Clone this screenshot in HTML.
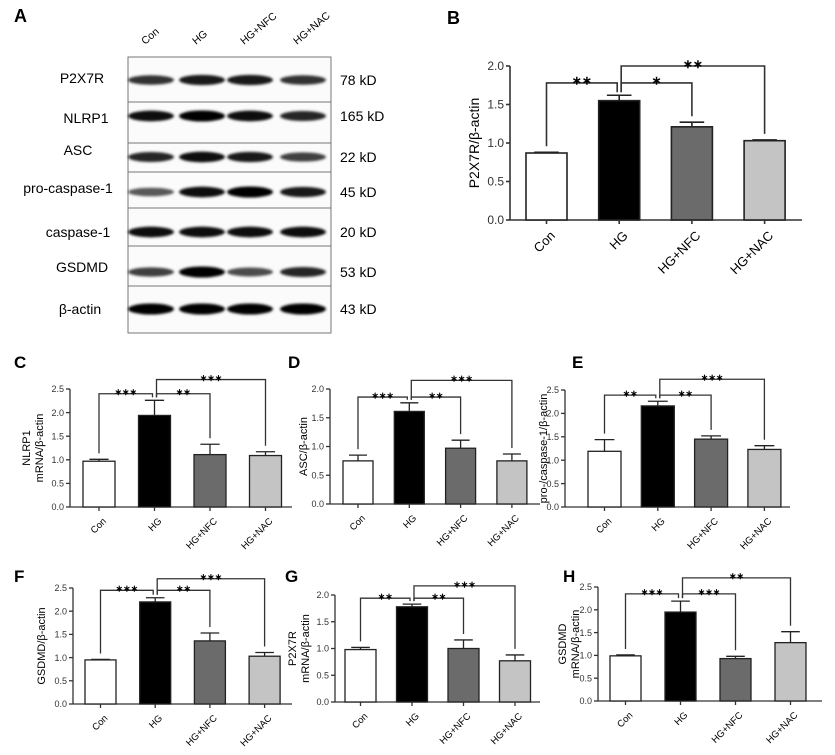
<!DOCTYPE html>
<html><head><meta charset="utf-8"><style>
body{margin:0;background:#fff}
svg{display:block;font-family:"Liberation Sans",Arial,sans-serif}
</style></head><body>
<svg id="fig" width="835" height="755" viewBox="0 0 835 755" xmlns="http://www.w3.org/2000/svg">
<defs><filter id="blur" x="-20%" y="-100%" width="140%" height="300%"><feGaussianBlur stdDeviation="1.4"/></filter></defs>
<g id="blot"></g>
<g id="charts"></g>
</svg>
<script>
// ---------- data ----------
const categories = ["Con","HG","HG+NFC","HG+NAC"];
const barFills = ["#ffffff","#000000","#6b6b6b","#c4c4c4"];

const valuesB = [0.87,1.55,1.21,1.03];  const errorsB = [0.01,0.07,0.06,0.01];
const valuesC = [0.97,1.94,1.11,1.09];  const errorsC = [0.04,0.32,0.22,0.08];
const valuesD = [0.75,1.61,0.97,0.75];  const errorsD = [0.10,0.15,0.14,0.12];
const valuesE = [1.19,2.16,1.45,1.23];  const errorsE = [0.25,0.10,0.07,0.08];
const valuesF = [0.95,2.20,1.36,1.03];  const errorsF = [0.01,0.09,0.17,0.08];
const valuesG = [0.98,1.78,1.00,0.77];  const errorsG = [0.04,0.05,0.16,0.11];
const valuesH = [0.99,1.95,0.93,1.28];  const errorsH = [0.02,0.24,0.05,0.24];

const starsB = ["**","*","**"];   const bracketB = [1.78,1.78,2.0];
const starsC = ["***","**","***"]; const bracketC = [2.4,2.4,2.7];
const starsD = ["***","**","***"]; const bracketD = [1.86,1.86,2.15];
const starsE = ["**","**","***"];  const bracketE = [2.39,2.39,2.73];
const starsF = ["***","**","***"]; const bracketF = [2.45,2.45,2.7];
const starsG = ["**","**","***"];  const bracketG = [1.94,1.94,2.17];
const starsH = ["***","***","**"]; const bracketH = [2.35,2.35,2.7];

const ticks20 = ["0.0","0.5","1.0","1.5","2.0"];
const ticks25 = ["0.0","0.5","1.0","1.5","2.0","2.5"];

const blotProteins = ["P2X7R","NLRP1","ASC","pro-caspase-1","caspase-1","GSDMD","β-actin"];
const blotWeights = ["78 kD","165 kD","22 kD","45 kD","20 kD","53 kD","43 kD"];
const bandIntensity = [
 [0.8,0.9,0.9,0.8],[0.95,1.0,0.95,0.85],[0.85,0.95,0.9,0.75],
 [0.65,0.95,1.0,0.9],[0.95,0.95,0.95,0.95],[0.75,1.0,0.7,0.85],[1,1,1,1]];

const NS="http://www.w3.org/2000/svg";
function mk(parent,tag,attrs,text){const e=document.createElementNS(NS,tag);for(const k in attrs)e.setAttribute(k,attrs[k]);if(text!==undefined)e.textContent=text;parent.appendChild(e);return e;}

// ---------- blot ----------
const blot=document.getElementById('blot');
const rowEdges=[57,102,143,172,208,246,286,333];
const bandY=[80,116,157,192,232,272,309];
const laneX=[151,202,250,303];
const labelX=[82,86,78,68,78,82,80];
const labelYOff=[-2,2,-7,-4,0,-5,0];
let t=mk(blot,'text',{x:14,y:22,'font-size':18,'font-weight':'bold'},'A');

categories.forEach((c,i)=>{
 const bx=laneX[i]-6, by=45;
 const tx=mk(blot,'text',{x:bx,y:by,'font-size':10.5,'text-anchor':'start',transform:`rotate(-40 ${bx} ${by})`},c);
 
});
for(let r=0;r<7;r++){
 const rect=mk(blot,'rect',{x:128,y:rowEdges[r],width:203,height:rowEdges[r+1]-rowEdges[r],fill:'#fbfbfb',stroke:'#777','stroke-width':1});
 
 laneX.forEach((lx,i)=>{
  const a=bandIntensity[r][i];
  const b=mk(blot,'ellipse',{cx:lx,cy:bandY[r],rx:23,ry:2+a*3.5,fill:'#000','fill-opacity':a,filter:'url(#blur)'});
  
 });
 const lt=mk(blot,'text',{x:labelX[r],y:bandY[r]+5+labelYOff[r],'font-size':14,'text-anchor':'middle'},blotProteins[r]);
 
 const wt=mk(blot,'text',{x:340,y:bandY[r]+5,'font-size':14},blotWeights[r]);
 
}

// ---------- charts ----------
const charts=document.getElementById('charts');
function drawPanel(p){
 const g=mk(charts,'g',{});
 
 const yScale=v=>p.y0-(v/p.max)*(p.y0-p.yTop);
 const xLeft=i=>p.bx+i*p.step;
 const xMid=i=>xLeft(i)+p.bw/2;
 const fs=p.fs, lw=p.big?1.6:1.3;
 const L=mk(g,'text',{x:p.lx,y:p.ly,'font-size':p.big?18:17,'font-weight':'bold'},p.id.toUpperCase());
 
 const ya=mk(g,'line',{x1:p.ax,y1:p.yTop,x2:p.ax,y2:p.y0,stroke:'#333','stroke-width':lw});
 
 const xa=mk(g,'line',{x1:p.ax,y1:p.y0,x2:p.xEnd,y2:p.y0,stroke:'#333','stroke-width':lw});
 
 p.ticks.forEach((lab,i)=>{
  const v=i*0.5, y=yScale(v);
  mk(g,'line',{x1:p.ax-4,y1:y,x2:p.ax,y2:y,stroke:'#333','stroke-width':lw});
  const tt=mk(g,'text',{x:p.ax-6,y:y+fs*0.35,'font-size':fs,'text-anchor':'end',fill:'#333'},lab);
  
 });
 const cy=(p.y0+p.yTop)/2;
 p.title.forEach((line,k)=>{
  const tx=p.tx+k*(p.tfs+2);
  const tt=mk(g,'text',{x:tx,y:cy,'font-size':p.tfs,'text-anchor':'middle',transform:`rotate(-90 ${tx} ${cy})`},line);
  
 });
 p.values.forEach((v,i)=>{
  const top=yScale(v), etop=yScale(v+p.errors[i]);
  mk(g,'line',{x1:xMid(i),y1:etop,x2:xMid(i),y2:top,stroke:'#222','stroke-width':lw});
  mk(g,'line',{x1:xMid(i)-p.bw*0.3,y1:etop,x2:xMid(i)+p.bw*0.3,y2:etop,stroke:'#222','stroke-width':lw});
  const r=mk(g,'rect',{x:xLeft(i),y:top,width:p.bw,height:p.y0-top,fill:barFills[i],stroke:'#222','stroke-width':lw});
  
  mk(g,'line',{x1:xMid(i),y1:p.y0,x2:xMid(i),y2:p.y0+4,stroke:'#333','stroke-width':lw});
  const cx=xMid(i)+3, cyy=p.y0+10;
  const ct=mk(g,'text',{x:cx,y:cyy+p.cfs*0.7,'font-size':p.cfs,'text-anchor':'end',transform:`rotate(-45 ${cx} ${cyy})`},categories[i]);
  
 });
 const pairs=[[0,1],[1,2],[1,3]];
 pairs.forEach((pr,k)=>{
  const by=yScale(p.brackets[k]);
  const a=pr[0], b=pr[1];
  const xa1=xMid(a)+(a===1?2:0), xb1=xMid(b)-(b===1?2:0);
  const endA=yScale(p.values[a]+p.errors[a])-(a===1?3:6);
  const endB=yScale(p.values[b]+p.errors[b])-(b===1?3:6);
  const pl=mk(g,'polyline',{points:`${xa1},${endA} ${xa1},${by} ${xb1},${by} ${xb1},${endB}`,fill:'none',stroke:'#333','stroke-width':lw});
  
  const st=mk(g,'text',{x:(xa1+xb1)/2,y:by+p.sfs*0.15,'font-size':p.sfs,'text-anchor':'middle','font-weight':'bold'},p.stars[k].replace(/\*/g,'∗'));
  
 });
}
const small={fs:9,cfs:9.5,tfs:11,sfs:9,big:false};
drawPanel(Object.assign({},{id:'b',lx:447,ly:24,ax:510,y0:220,yTop:66,max:2.0,xEnd:802,bx:526,bw:41,step:72.7,
 values:valuesB,errors:errorsB,stars:starsB,brackets:bracketB,ticks:ticks20,title:["P2X7R/β-actin"],tx:479,
 fs:12,cfs:13,tfs:14,sfs:12,big:true}));
drawPanel(Object.assign({},small,{id:'c',lx:14,ly:368,ax:70,y0:507,yTop:389,max:2.5,xEnd:292,bx:83,bw:32,step:55.5,
 values:valuesC,errors:errorsC,stars:starsC,brackets:bracketC,ticks:ticks25,title:["NLRP1","mRNA/β-actin"],tx:30,tfs:11}));
drawPanel(Object.assign({},small,{id:'d',lx:288,ly:368,ax:330,y0:504,yTop:389,max:2.0,xEnd:540,bx:343,bw:30,step:51.3,
 values:valuesD,errors:errorsD,stars:starsD,brackets:bracketD,ticks:ticks20,title:["ASC/β-actin"],tx:307}));
drawPanel(Object.assign({},small,{id:'e',lx:572,ly:368,ax:565,y0:507,yTop:390,max:2.5,xEnd:790,bx:588,bw:33,step:53.3,
 values:valuesE,errors:errorsE,stars:starsE,brackets:bracketE,ticks:ticks25,title:["pro-/caspase-1/β-actin"],tx:547}));
drawPanel(Object.assign({},small,{id:'f',lx:14,ly:582,ax:73,y0:704,yTop:588,max:2.5,xEnd:292,bx:85,bw:31,step:54.7,
 values:valuesF,errors:errorsF,stars:starsF,brackets:bracketF,ticks:ticks25,title:["GSDMD/β-actin"],tx:45}));
drawPanel(Object.assign({},small,{id:'g',lx:285,ly:582,ax:335,y0:702,yTop:595,max:2.0,xEnd:540,bx:345,bw:31,step:51.5,
 values:valuesG,errors:errorsG,stars:starsG,brackets:bracketG,ticks:ticks20,title:["P2X7R","mRNA/β-actin"],tx:296,tfs:11}));
drawPanel(Object.assign({},small,{id:'h',lx:563,ly:582,ax:598,y0:701,yTop:587,max:2.5,xEnd:822,bx:610,bw:31,step:55,
 values:valuesH,errors:errorsH,stars:starsH,brackets:bracketH,ticks:ticks25,title:["GSDMD","mRNA/β-actin"],tx:566,tfs:11}));
</script>
</body></html>
